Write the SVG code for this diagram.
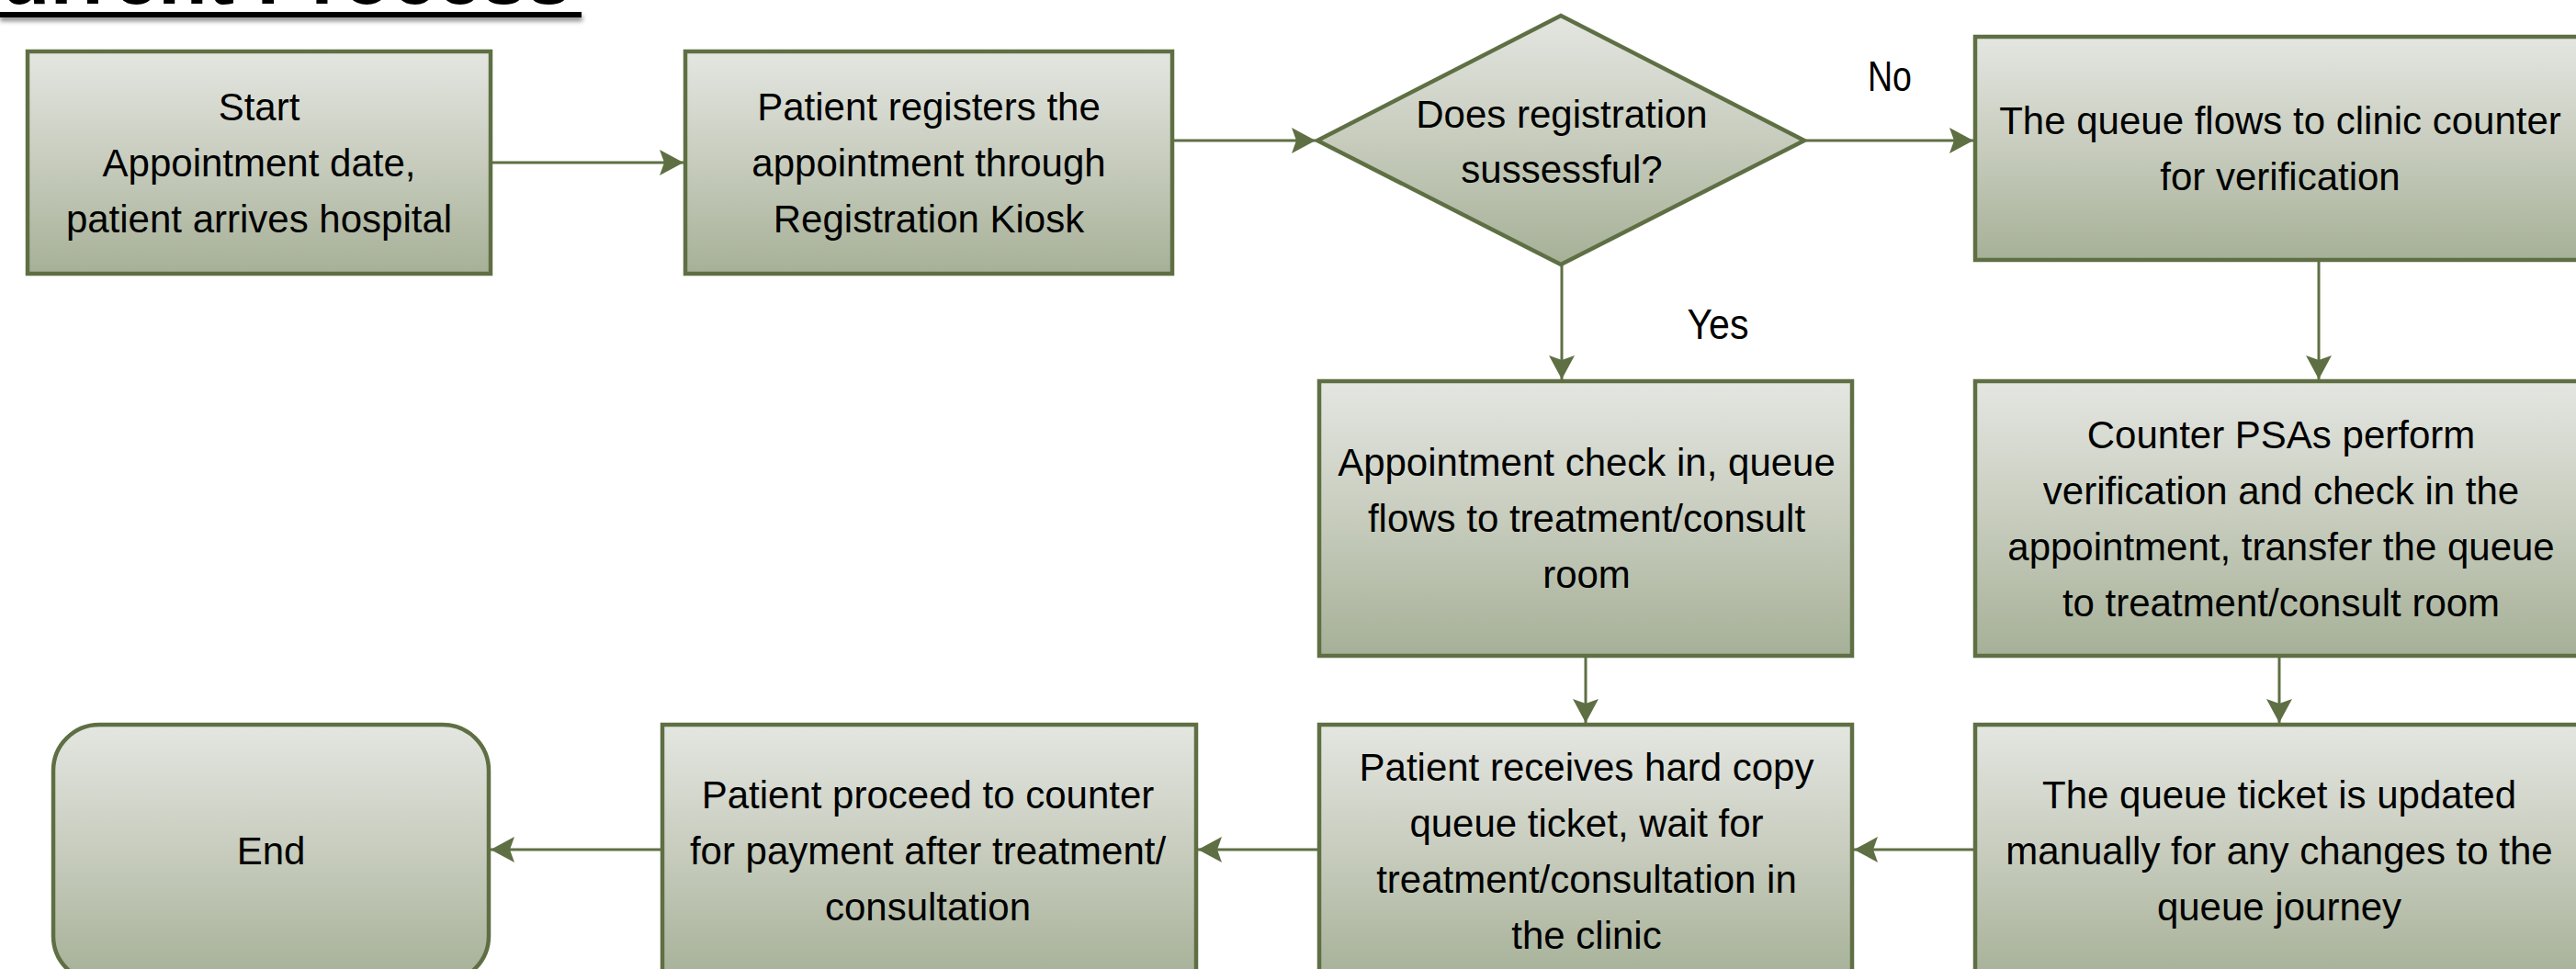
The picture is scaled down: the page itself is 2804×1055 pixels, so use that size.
<svg xmlns="http://www.w3.org/2000/svg" width="2804" height="1055" viewBox="0 0 2804 1055">
  <style>
    .box { fill: url(#g); stroke: #5f6f44; stroke-width: 4.5; }
    .t { font-family: "Liberation Sans", Arial, sans-serif; font-size: 42px; fill: #000; text-anchor: middle; }
    .lbl { font-family: "Liberation Sans", Arial, sans-serif; font-size: 47px; fill: #000; text-anchor: middle; }
    .c { fill: none; stroke: #5f6f44; stroke-width: 3; marker-end: url(#ah); }
    .title { font-family: "Liberation Sans", Arial, sans-serif; font-size: 88px; font-weight: bold; fill: #000; text-anchor: end; }
  </style>
  <defs>
    <linearGradient id="g" x1="0" y1="0" x2="0" y2="1">
      <stop offset="0" stop-color="#e4e6e1"/>
      <stop offset="0.5" stop-color="#c7ccbd"/>
      <stop offset="1" stop-color="#a6b097"/>
    </linearGradient>
    <marker id="ah" markerUnits="userSpaceOnUse" markerWidth="30" markerHeight="30" viewBox="-27 -15 28 30" refX="0" refY="0" orient="auto">
      <path d="M0,0 L-26,-14 L-21,0 L-26,14 Z" fill="#5f6f44"/>
    </marker>
    <filter id="sh" x="-0.1" y="-1" width="1.2" height="3">
      <feGaussianBlur stdDeviation="2.5"/>
    </filter>
  </defs>

  <g id="title">
    <rect x="0" y="17" width="634" height="6" fill="#888" filter="url(#sh)"/>
    <text class="title" x="622" y="4">Current Process</text>
    <rect x="0" y="13" width="633" height="6" fill="#000"/>
  </g>

  <g id="connectors">
    <path class="c" d="M536,177 H744"/>
    <path class="c" d="M1278,153 H1432"/>
    <path class="c" d="M1966,153 H2148"/>
    <path class="c" d="M1700,289 V413"/>
    <path class="c" d="M2524,285 V413"/>
    <path class="c" d="M1726,716 V787"/>
    <path class="c" d="M2481,716 V787"/>
    <path class="c" d="M2148,925 H2018"/>
    <path class="c" d="M1434,925 H1304"/>
    <path class="c" d="M719,925 H534"/>
  </g>

  <g id="n-start">
    <rect class="box" x="30" y="56" width="504" height="242"/>
    <text class="t" x="282" y="131">Start</text>
    <text class="t" x="282" y="192">Appointment date,</text>
    <text class="t" x="282" y="253">patient arrives hospital</text>
  </g>

  <g id="n-register">
    <rect class="box" x="746" y="56" width="530" height="242"/>
    <text class="t" x="1011" y="131">Patient registers the</text>
    <text class="t" x="1011" y="192">appointment through</text>
    <text class="t" x="1011" y="253">Registration Kiosk</text>
  </g>

  <g id="n-decision">
    <polygon class="box" points="1434,153 1699,17 1964,153 1699,288"/>
    <text class="t" x="1700" y="139">Does registration</text>
    <text class="t" x="1700" y="199">sussessful?</text>
  </g>

  <g id="n-counter-queue">
    <rect class="box" x="2150" y="40" width="664" height="243"/>
    <text class="t" x="2482" y="146">The queue flows to clinic counter</text>
    <text class="t" x="2482" y="207">for verification</text>
  </g>

  <g id="n-checkin">
    <rect class="box" x="1436" y="415" width="580" height="299"/>
    <text class="t" x="1727" y="518">Appointment check in, queue</text>
    <text class="t" x="1727" y="579">flows to treatment/consult</text>
    <text class="t" x="1727" y="640">room</text>
  </g>

  <g id="n-psa">
    <rect class="box" x="2150" y="415" width="664" height="299"/>
    <text class="t" x="2483" y="488">Counter PSAs perform</text>
    <text class="t" x="2483" y="549">verification and check in the</text>
    <text class="t" x="2483" y="610">appointment, transfer the queue</text>
    <text class="t" x="2483" y="671">to treatment/consult room</text>
  </g>

  <g id="n-ticket">
    <rect class="box" x="1436" y="789" width="580" height="280"/>
    <text class="t" x="1727" y="850">Patient receives hard copy</text>
    <text class="t" x="1727" y="911">queue ticket, wait for</text>
    <text class="t" x="1727" y="972">treatment/consultation in</text>
    <text class="t" x="1727" y="1033">the clinic</text>
  </g>

  <g id="n-update">
    <rect class="box" x="2150" y="789" width="664" height="280"/>
    <text class="t" x="2481" y="880">The queue ticket is updated</text>
    <text class="t" x="2481" y="941">manually for any changes to the</text>
    <text class="t" x="2481" y="1002">queue journey</text>
  </g>

  <g id="n-payment">
    <rect class="box" x="721" y="789" width="581" height="280"/>
    <text class="t" x="1010" y="880">Patient proceed to counter</text>
    <text class="t" x="1010" y="941">for payment after treatment/</text>
    <text class="t" x="1010" y="1002">consultation</text>
  </g>

  <g id="n-end">
    <rect class="box" x="58" y="789" width="474" height="280" rx="50" ry="50"/>
    <text class="t" x="295" y="941">End</text>
  </g>

  <g id="labels">
    <text class="lbl" x="2057" y="99" textLength="48" lengthAdjust="spacingAndGlyphs">No</text>
    <text class="lbl" x="1870" y="369" textLength="67" lengthAdjust="spacingAndGlyphs">Yes</text>
  </g>
</svg>
